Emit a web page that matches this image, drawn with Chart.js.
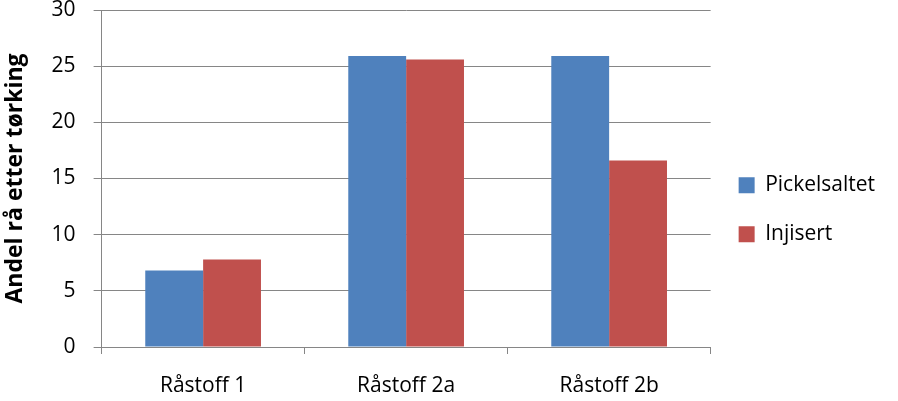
<!DOCTYPE html>
<html>
<head>
<meta charset="utf-8">
<script src="https://cdn.jsdelivr.net/npm/chart.js@4/dist/chart.umd.min.js"></script>
<style>
    html, body { margin: 0; padding: 0; background: #fff; }
    #wrap { width: 898px; height: 401px; }
</style>
</head>
<body>
<div id="wrap"><canvas id="barChart" width="898" height="401"></canvas></div>
<script>
// data
const categories = ['Råstoff 1', 'Råstoff 2a', 'Råstoff 2b'];
const pickelsaltet = [6.8, 25.9, 25.9];
const injisert = [7.8, 25.6, 16.6];
const seriesNames = ['Pickelsaltet', 'Injisert'];
const yTicks = [0, 5, 10, 15, 20, 25, 30];

const fontFamily = '"Open Sans", sans-serif';
const gridColor = '#868686';

const chart = new Chart(document.getElementById('barChart'), {
    type: 'bar',
    data: {
        labels: categories,
        datasets: [
            { label: seriesNames[0], data: pickelsaltet, backgroundColor: '#4f81bd' },
            { label: seriesNames[1], data: injisert, backgroundColor: '#c0504d' }
        ]
    },
    options: {
        responsive: false,
        animation: false,
        categoryPercentage: 0.57,
        barPercentage: 1,
        layout: { padding: { top: 10, left: 2, right: 13, bottom: 0 } },
        plugins: {
            tooltip: { enabled: false },
            legend: {
                position: 'right',
                align: 'center',
                // tom tittel for å skyve forklaringen litt ned
                title: {
                    display: true,
                    text: ' ',
                    font: { size: 7 },
                    padding: 0
                },
                labels: {
                    boxWidth: 16,
                    boxHeight: 16,
                    padding: 28,
                    color: '#000',
                    font: { family: fontFamily, size: 21 }
                }
            }
        },
        scales: {
            x: {
                afterFit: axis => { axis.height = 54; },
                grid: {
                    display: true,
                    drawOnChartArea: false,
                    tickLength: 7,
                    color: gridColor
                },
                border: { color: gridColor },
                ticks: {
                    color: '#000',
                    padding: 19,
                    font: { family: fontFamily, size: 21 }
                }
            },
            y: {
                min: 0,
                max: 30,
                afterBuildTicks: axis => { axis.ticks = yTicks.map(v => ({ value: v })); },
                afterFit: axis => { axis.paddingTop = 0; axis.paddingBottom = 0; },
                grid: { color: gridColor, tickLength: 8 },
                border: { color: gridColor },
                ticks: {
                    color: '#000',
                    padding: 18,
                    font: { family: fontFamily, size: 21 }
                },
                title: {
                    display: true,
                    text: 'Andel rå etter tørking',
                    color: '#000',
                    padding: { top: 0, bottom: 4 },
                    font: { family: fontFamily, size: 23, weight: 'bold' }
                }
            }
        }
    }
});
</script>
</body>
</html>
